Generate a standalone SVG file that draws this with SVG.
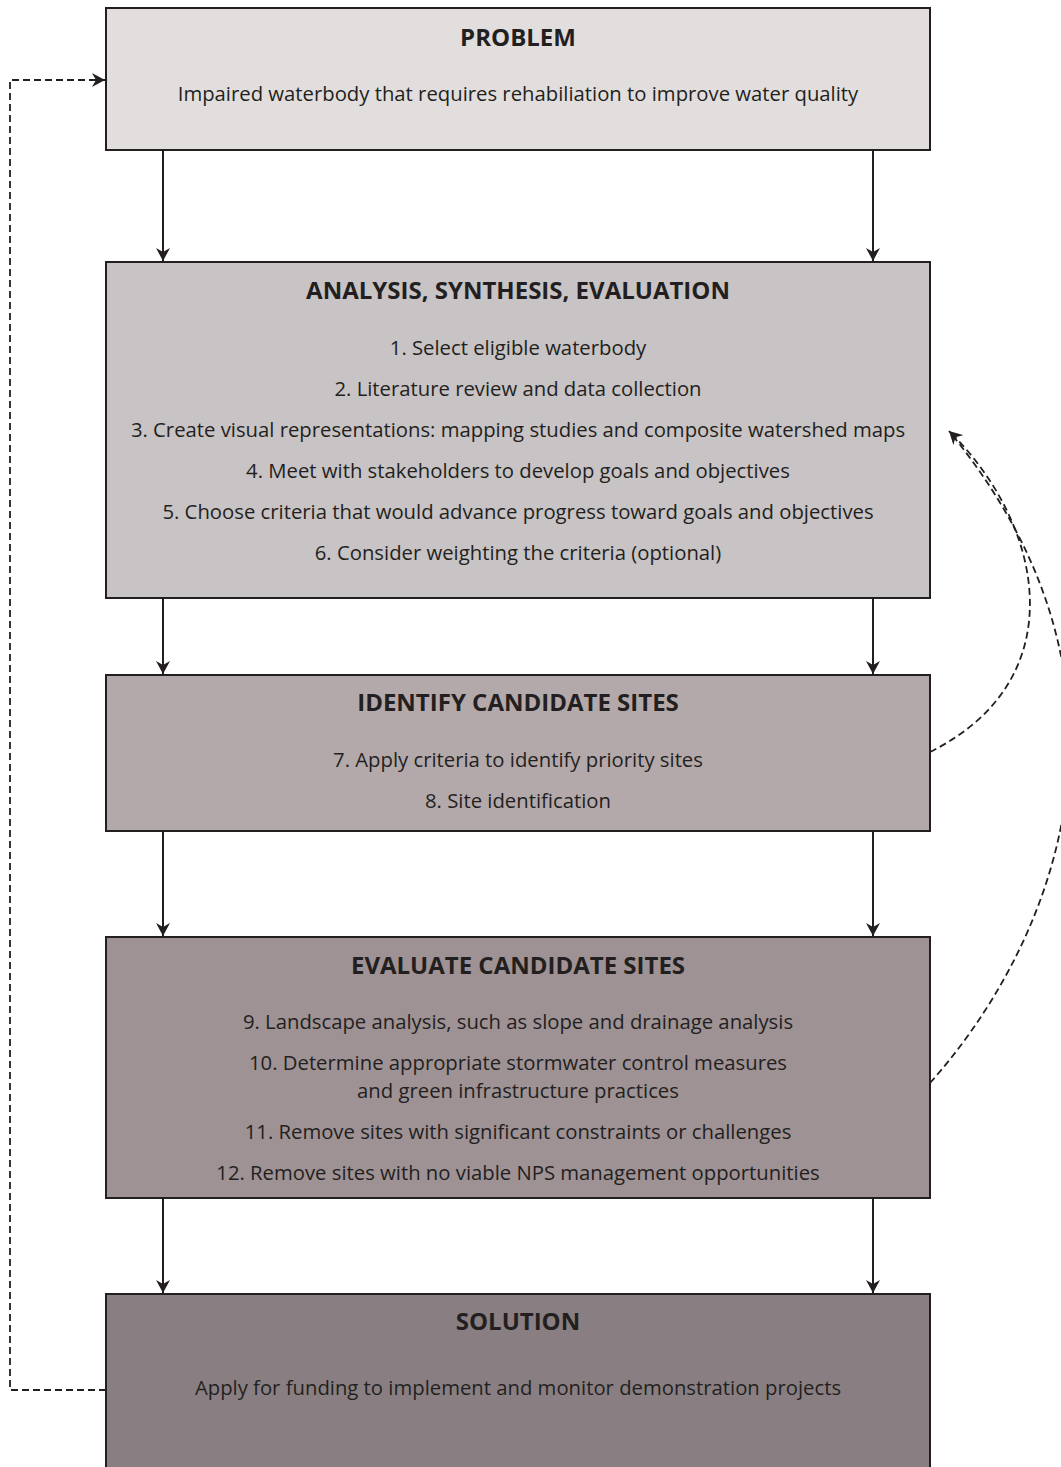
<svg xmlns="http://www.w3.org/2000/svg" width="1061" height="1467" viewBox="0 0 1061 1467">
<defs>
<style>
.box{stroke:#231f20;stroke-width:2}
.t{font-family:"Open Sans","Liberation Sans",sans-serif;font-size:20.3px;fill:#231f20;text-anchor:middle}
.h{font-family:"Open Sans","Liberation Sans",sans-serif;font-size:24px;font-weight:bold;fill:#231f20;text-anchor:middle}
.arr{stroke:#231f20;stroke-width:2;fill:none;marker-end:url(#ah)}
.dash{stroke:#231f20;stroke-width:1.8;fill:none;stroke-dasharray:7,4}
</style>
<marker id="ah" viewBox="0 0 13 14" refX="13" refY="7" markerWidth="13" markerHeight="14" markerUnits="userSpaceOnUse" orient="auto">
<path d="M0,0 L13,7 L0,14 L4,7 z" fill="#231f20"/>
</marker>
</defs>
<rect width="1061" height="1467" fill="#ffffff"/>
<g id="connectors">
<line class="arr" x1="163" y1="150" x2="163" y2="261"/>
<line class="arr" x1="873" y1="150" x2="873" y2="261"/>
<line class="arr" x1="163" y1="598" x2="163" y2="674"/>
<line class="arr" x1="873" y1="598" x2="873" y2="674"/>
<line class="arr" x1="163" y1="831" x2="163" y2="936"/>
<line class="arr" x1="873" y1="831" x2="873" y2="936"/>
<line class="arr" x1="163" y1="1198" x2="163" y2="1293"/>
<line class="arr" x1="873" y1="1198" x2="873" y2="1293"/>
<path class="dash" d="M106,1390 H10 V80 H105" marker-end="url(#ah)"/>
<path class="dash" d="M930,752 C1075,680 1045,525 949,431" marker-end="url(#ah)"/>
<path class="dash" d="M930,1083 C1040,960 1170,700 949,431"/>
</g>
<g id="problem">
<rect class="box" x="106" y="8" width="824" height="142" fill="#e1dedd"/>
<text class="h" x="518" y="46">PROBLEM</text>
<text class="t" x="518" y="101">Impaired waterbody that requires rehabiliation to improve water quality</text>
</g>
<g id="analysis">
<rect class="box" x="106" y="262" width="824" height="336" fill="#c8c3c4"/>
<text class="h" x="518" y="299">ANALYSIS, SYNTHESIS, EVALUATION</text>
<text class="t" x="518" y="355">1. Select eligible waterbody</text>
<text class="t" x="518" y="396">2. Literature review and data collection</text>
<text class="t" x="518" y="437">3. Create visual representations: mapping studies and composite watershed maps</text>
<text class="t" x="518" y="478">4. Meet with stakeholders to develop goals and objectives</text>
<text class="t" x="518" y="519">5. Choose criteria that would advance progress toward goals and objectives</text>
<text class="t" x="518" y="560">6. Consider weighting the criteria (optional)</text>
</g>
<g id="identify">
<rect class="box" x="106" y="675" width="824" height="156" fill="#b3a9ab"/>
<text class="h" x="518" y="711">IDENTIFY CANDIDATE SITES</text>
<text class="t" x="518" y="767">7. Apply criteria to identify priority sites</text>
<text class="t" x="518" y="808">8. Site identification</text>
</g>
<g id="evaluate">
<rect class="box" x="106" y="937" width="824" height="261" fill="#9e9294"/>
<text class="h" x="518" y="974">EVALUATE CANDIDATE SITES</text>
<text class="t" x="518" y="1029">9. Landscape analysis, such as slope and drainage analysis</text>
<text class="t" x="518" y="1070">10. Determine appropriate stormwater control measures</text>
<text class="t" x="518" y="1098">and green infrastructure practices</text>
<text class="t" x="518" y="1139">11. Remove sites with significant constraints or challenges</text>
<text class="t" x="518" y="1180">12. Remove sites with no viable NPS management opportunities</text>
</g>
<g id="solution">
<rect class="box" x="106" y="1294" width="824" height="190" fill="#897f82"/>
<text class="h" x="518" y="1330">SOLUTION</text>
<text class="t" x="518" y="1395">Apply for funding to implement and monitor demonstration projects</text>
</g>
</svg>
